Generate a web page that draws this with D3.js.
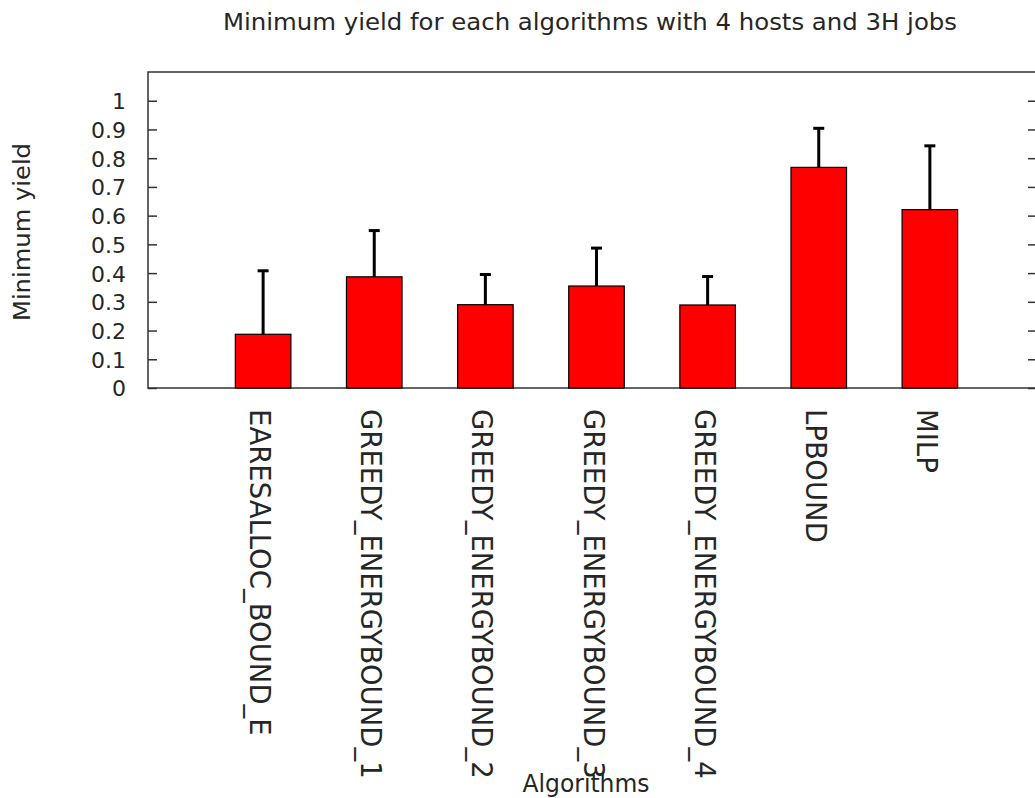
<!DOCTYPE html>
<html>
<head>
<meta charset="utf-8">
<script src="https://cdn.jsdelivr.net/npm/d3@7"></script>
<style>
  html, body { margin: 0; padding: 0; background: #fff; }
  svg { display: block; }
  text { font-family: "DejaVu Sans", sans-serif; fill: #262626; }
</style>
</head>
<body>
<svg id="chart" width="1035" height="798"></svg>
<script>
const categories = ["EARESALLOC_BOUND_E", "GREEDY_ENERGYBOUND_1", "GREEDY_ENERGYBOUND_2",
  "GREEDY_ENERGYBOUND_3", "GREEDY_ENERGYBOUND_4", "LPBOUND", "MILP"];
const values = [0.187, 0.387, 0.290, 0.355, 0.289, 0.768, 0.621];
const errorTops = [0.408, 0.548, 0.395, 0.487, 0.388, 0.904, 0.843];
const yTicks = [0, 0.1, 0.2, 0.3, 0.4, 0.5, 0.6, 0.7, 0.8, 0.9, 1];
const titleText = "Minimum yield for each algorithms with 4 hosts and 3H jobs";
const yLabelText = "Minimum yield";
const xLabelText = "Algorithms";

const svg = d3.select("#chart");
const mLeft = 148, mRight = 1037, mTop = 72, mBottom = 388;

const x = d3.scaleLinear().domain([0, categories.length + 1]).range([mLeft + 4, mRight + 4]);
const y = d3.scaleLinear().domain([0, 1.1]).range([mBottom, mTop]);
const barW = x(0.5) - x(0);

// Frame
svg.append("rect")
  .attr("x", mLeft).attr("y", mTop)
  .attr("width", mRight - mLeft).attr("height", mBottom - mTop)
  .attr("fill", "none").attr("stroke", "#333").attr("stroke-width", 1.5);

// Left axis (inward ticks)
const yAxisL = d3.axisLeft(y).tickValues(yTicks).tickSize(-9).tickPadding(22)
  .tickFormat(d3.format("~g"));
const gL = svg.append("g").attr("transform", `translate(${mLeft},0)`).call(yAxisL);
gL.select(".domain").remove();
gL.selectAll(".tick line").attr("stroke", "#333").attr("stroke-width", 1.5);
gL.selectAll(".tick text").attr("font-size", 22).attr("fill", "#262626")
  .attr("font-family", "DejaVu Sans, sans-serif").attr("dy", "0.36em");

// Right axis ticks (inward, no labels)
const yAxisR = d3.axisRight(y).tickValues(yTicks).tickSize(-9).tickFormat("");
const gR = svg.append("g").attr("transform", `translate(${mRight},0)`).call(yAxisR);
gR.select(".domain").remove();
gR.selectAll(".tick line").attr("stroke", "#333").attr("stroke-width", 1.5);

// Bars
svg.append("g").selectAll("rect")
  .data(values)
  .join("rect")
  .attr("x", (d, i) => x(i + 1) - barW / 2)
  .attr("y", d => y(d))
  .attr("width", barW)
  .attr("height", d => y(0) - y(d))
  .attr("fill", "#ff0000")
  .attr("stroke", "#000")
  .attr("stroke-width", 1.2);

// Error bars (upper only)
const eg = svg.append("g");
eg.selectAll("line.v")
  .data(values)
  .join("line")
  .attr("class", "v")
  .attr("x1", (d, i) => x(i + 1)).attr("x2", (d, i) => x(i + 1))
  .attr("y1", d => y(d)).attr("y2", (d, i) => y(errorTops[i]))
  .attr("stroke", "#000").attr("stroke-width", 3);
eg.selectAll("line.cap")
  .data(errorTops)
  .join("line")
  .attr("class", "cap")
  .attr("x1", (d, i) => x(i + 1) - 5.5).attr("x2", (d, i) => x(i + 1) + 5.5)
  .attr("y1", d => y(d)).attr("y2", d => y(d))
  .attr("stroke", "#000").attr("stroke-width", 3);

// Category labels (rotated 90deg)
svg.append("g").selectAll("text")
  .data(categories)
  .join("text")
  .attr("transform", (d, i) => `translate(${x(i + 1) - 13},409) rotate(90)`)
  .attr("font-size", 27.5)
  .attr("text-anchor", "start")
  .text(d => d);

// Title
svg.append("text")
  .attr("x", 590).attr("y", 30)
  .attr("text-anchor", "middle")
  .attr("font-size", 23)
  .attr("textLength", 734).attr("lengthAdjust", "spacingAndGlyphs")
  .text(titleText);

// Y label
svg.append("text")
  .attr("transform", "translate(30,232) rotate(-90)")
  .attr("text-anchor", "middle")
  .attr("font-size", 23)
  .attr("textLength", 178).attr("lengthAdjust", "spacingAndGlyphs")
  .text(yLabelText);

// X label
svg.append("text")
  .attr("x", 586).attr("y", 792)
  .attr("text-anchor", "middle")
  .attr("font-size", 24)
  .attr("textLength", 127).attr("lengthAdjust", "spacingAndGlyphs")
  .text(xLabelText);
</script>
</body>
</html>
